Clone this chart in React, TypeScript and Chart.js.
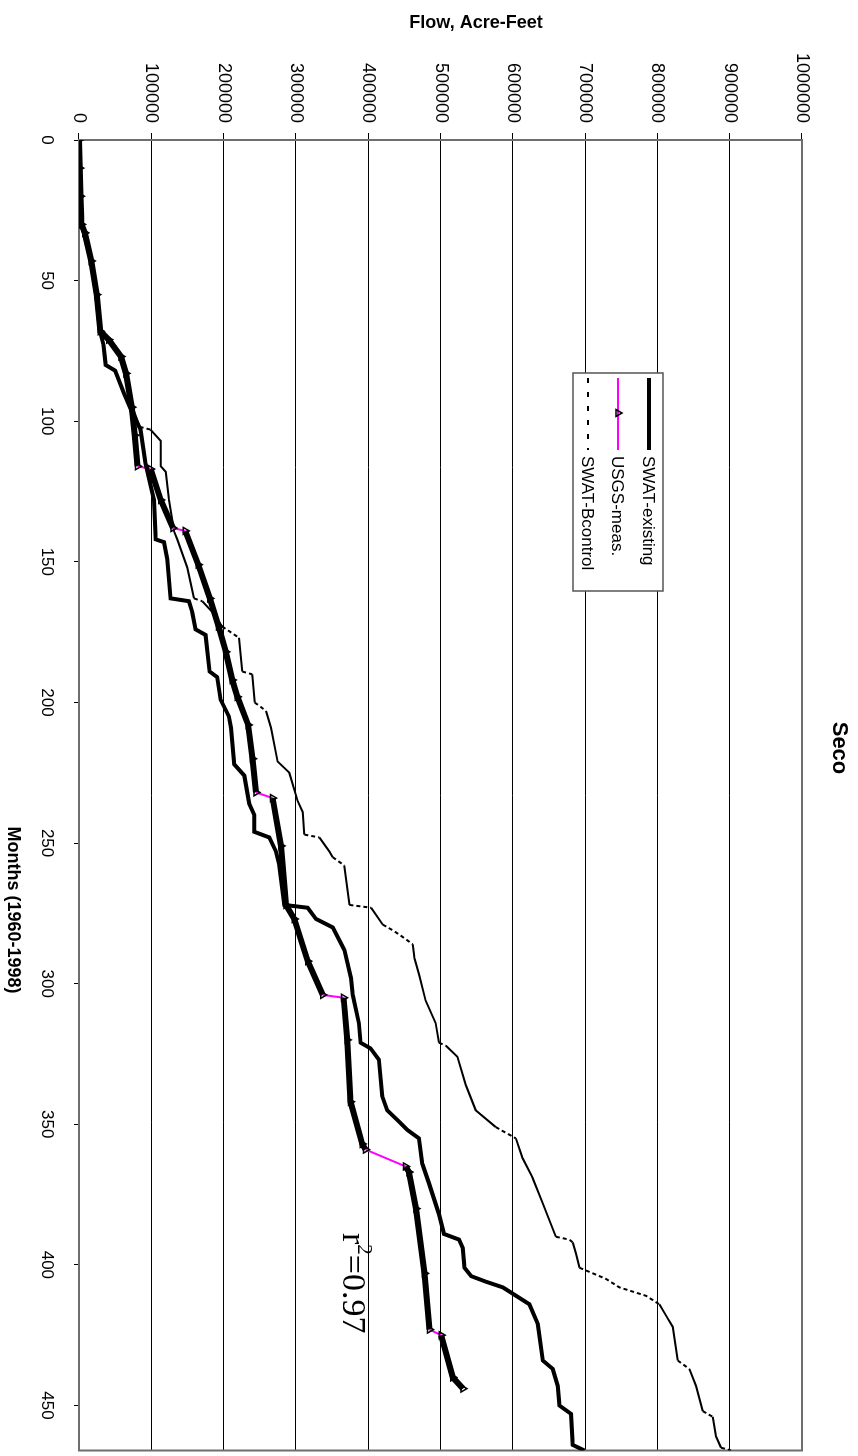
import { useEffect, useRef } from 'react';
import { Chart, registerables } from 'chart.js';

Chart.register(...registerables);

// ---------- data ----------
const chartTitle = 'Seco';
const xAxisTitle = 'Months (1960-1998)';
const yAxisTitle = 'Flow, Acre-Feet';
const seriesLabels = ['SWAT-existing', 'USGS-meas.', 'SWAT-Bcontrol'];
const fitLabel = '0.97';

const monthTicks = [0, 50, 100, 150, 200, 250, 300, 350, 400, 450];
const flowTicks = [0, 100000, 200000, 300000, 400000, 500000, 600000, 700000, 800000, 900000, 1000000];
const monthMax = 466;

const existingMonths = [0, 10, 20, 30, 34, 43, 55, 68, 73, 80, 82, 90, 96, 103, 115, 128, 142, 143, 149, 163, 164, 168, 174, 176, 189, 191, 199, 205, 209, 222, 226, 236, 240, 246, 248, 253, 258, 272, 273, 277, 280, 288, 298, 304, 314, 321, 323, 327, 340, 345, 349, 352, 355, 364, 371, 382, 389, 391, 394, 401, 404, 406, 408, 411, 414, 421, 434, 437, 443, 450, 453, 464, 466];
const existingFlow = [0, 1000, 2000, 3500, 8000, 17000, 24000, 29000, 34000, 37000, 50000, 62000, 72000, 85000, 92000, 103700, 106000, 117500, 122100, 126700, 152000, 156700, 161300, 175100, 180600, 191200, 195800, 207400, 210200, 214800, 228600, 235500, 242400, 242400, 263200, 272400, 277100, 284000, 316300, 327800, 350900, 367000, 376300, 378600, 387100, 389400, 403200, 414800, 419400, 426300, 442500, 454000, 470200, 474800, 484100, 497900, 504800, 525600, 530900, 533200, 542400, 563100, 586200, 604600, 623000, 634600, 641500, 655300, 662200, 664500, 680600, 682900, 699100];

const usgsMonths = [0, 10, 20, 30, 33, 43, 55, 68, 71, 77, 83, 95, 105, 116, 117, 128, 138, 139, 151, 163, 173, 182, 192, 198, 208, 220, 232, 234, 251, 272, 277, 292, 304, 305, 320, 342, 357, 359, 365, 367, 380, 403, 423, 425, 440, 444];
const usgsFlow = [0, 1000, 2000, 3500, 8000, 17000, 24500, 29500, 41000, 58000, 65000, 73000, 77000, 81000, 99000, 113000, 130000, 147000, 165000, 181000, 193000, 203000, 212000, 219000, 234000, 240000, 244800, 267800, 279400, 286300, 297800, 316300, 337000, 366000, 371000, 375500, 391700, 396300, 451700, 456400, 466000, 478000, 484800, 501000, 517000, 531000];

const bcontrolMonths = [0, 10, 20, 30, 34, 43, 55, 68, 72, 76, 83, 95, 102, 103, 107, 116, 118, 128, 139, 142, 152, 163, 164, 168, 173, 175, 177, 189, 190, 200, 203, 209, 221, 225, 235, 239, 247, 248, 253, 255, 258, 272, 273, 279, 281, 283, 286, 291, 297, 306, 314, 321, 322, 326, 336, 345, 351, 353, 355, 362, 369, 378, 390, 391, 392, 396, 401, 405, 408, 411, 414, 418, 422, 434, 437, 443, 452, 454, 461, 465, 466];
const bcontrolFlow = [0, 1000, 2000, 3500, 8500, 17500, 25000, 30000, 42000, 56000, 64000, 74000, 84000, 99000, 113000, 113000, 120000, 124400, 131300, 135900, 149800, 159000, 170500, 185000, 198000, 209700, 221200, 225800, 239600, 243000, 258600, 265500, 274700, 290900, 302400, 309400, 311700, 332400, 346300, 350900, 367000, 374000, 404000, 420100, 433900, 445500, 461600, 464000, 470500, 479400, 493300, 497900, 507200, 523300, 534900, 548700, 576400, 590300, 604200, 613400, 627300, 641200, 659600, 678100, 682900, 687500, 692200, 729000, 747400, 784300, 802700, 811900, 821200, 828100, 844200, 853400, 862700, 876500, 881100, 888000, 901800];

// ---------- styles ----------
const SANS = '"Liberation Sans", Arial, sans-serif';
const SERIF = '"Liberation Serif", "Times New Roman", serif';
const MAGENTA = '#ff00ff';

const toPoints = (xs: number[], ys: number[]) => xs.map((x, i) => ({ x, y: ys[i] }));
const steepness = (ctx: any) => {
  const dx = Math.abs(ctx.p1.x - ctx.p0.x) || 0.001;
  const dy = Math.abs(ctx.p1.y - ctx.p0.y);
  return dy / dx;
};

const decorPlugin = {
  id: 'decor',
  beforeDatasetsDraw(chart: any) {
    const { ctx, chartArea: a } = chart;
    ctx.save();
    ctx.strokeStyle = '#6e6e6e';
    ctx.lineWidth = 2;
    ctx.strokeRect(a.left, a.top, a.right - a.left, a.bottom - a.top);
    ctx.restore();
  },
  afterDraw(chart: any) {
    const { ctx } = chart;
    ctx.save();
    ctx.fillStyle = '#000';

    // chart title
    ctx.font = `bold 22px ${SANS}`;
    ctx.textAlign = 'center';
    ctx.textBaseline = 'middle';
    ctx.fillText(chartTitle, 748, 19);

    // x axis title
    ctx.font = `bold 18px ${SANS}`;
    ctx.fillText(xAxisTitle, 910, 845);

    // y axis title (rotated)
    ctx.save();
    ctx.translate(23, 382);
    ctx.rotate(-Math.PI / 2);
    ctx.font = `bold 18px ${SANS}`;
    ctx.fillText(yAxisTitle, 0, 0);
    ctx.restore();

    // r^2 annotation
    ctx.textAlign = 'left';
    ctx.textBaseline = 'alphabetic';
    let x = 1233;
    const base = 515;
    ctx.font = `34px ${SERIF}`;
    ctx.fillText('r', x, base);
    x += ctx.measureText('r').width;
    ctx.font = `21px ${SERIF}`;
    ctx.fillText('2', x, base - 15);
    x += ctx.measureText('2').width;
    ctx.font = `34px ${SERIF}`;
    ctx.fillText('=' + fitLabel, x, base);

    // legend
    const lx = 373, ly = 195, lw = 218, lh = 90;
    ctx.fillStyle = '#fff';
    ctx.fillRect(lx, ly, lw, lh);
    ctx.strokeStyle = '#555';
    ctx.lineWidth = 1.5;
    ctx.strokeRect(lx, ly, lw, lh);
    const rows = [209, 240, 270];
    const s0 = 378, s1 = 450, tx = 456;
    ctx.strokeStyle = '#000';
    ctx.lineWidth = 4;
    ctx.beginPath(); ctx.moveTo(s0, rows[0]); ctx.lineTo(s1, rows[0]); ctx.stroke();
    ctx.strokeStyle = MAGENTA;
    ctx.lineWidth = 2;
    ctx.beginPath(); ctx.moveTo(s0, rows[1]); ctx.lineTo(s1, rows[1]); ctx.stroke();
    ctx.strokeStyle = '#000';
    ctx.lineWidth = 1.5;
    const cx = 413, cy = rows[1], r = 4;
    ctx.beginPath();
    ctx.moveTo(cx, cy - r);
    ctx.lineTo(cx + r * 0.87, cy + r * 0.5);
    ctx.lineTo(cx - r * 0.87, cy + r * 0.5);
    ctx.closePath();
    ctx.stroke();
    ctx.setLineDash([5, 9]);
    ctx.lineWidth = 2;
    ctx.beginPath(); ctx.moveTo(s0, rows[2]); ctx.lineTo(s1, rows[2]); ctx.stroke();
    ctx.setLineDash([]);
    ctx.fillStyle = '#000';
    ctx.font = `17px ${SANS}`;
    ctx.textBaseline = 'middle';
    seriesLabels.forEach((lab, i) => ctx.fillText(lab, tx, rows[i] + 1));
    ctx.restore();
  },
};

export default function App() {
  const ref = useRef<HTMLCanvasElement>(null);

  useEffect(() => {
    if (!ref.current) return;
    const chart = new Chart(ref.current, {
      type: 'line',
      data: {
        datasets: [
          {
            label: seriesLabels[0],
            data: toPoints(existingMonths, existingFlow),
            borderColor: '#000',
            borderWidth: 4,
            pointRadius: 0,
            tension: 0,
            fill: false,
          },
          {
            label: seriesLabels[1],
            data: toPoints(usgsMonths, usgsFlow),
            borderColor: '#000',
            borderWidth: 6,
            pointStyle: 'triangle',
            pointRadius: 4,
            pointBorderWidth: 1.5,
            pointBorderColor: '#000',
            pointBackgroundColor: 'rgba(0,0,0,0)',
            tension: 0,
            fill: false,
            segment: {
              borderColor: (ctx: any) => (steepness(ctx) > 1.8 ? MAGENTA : '#000'),
              borderWidth: (ctx: any) => (steepness(ctx) > 1.8 ? 2 : 6),
            },
          },
          {
            label: seriesLabels[2],
            data: toPoints(bcontrolMonths, bcontrolFlow),
            borderColor: '#000',
            borderWidth: 2,
            pointRadius: 0,
            tension: 0,
            fill: false,
            segment: {
              borderDash: (ctx: any) => (steepness(ctx) > 1.2 ? [4, 3] : []),
            },
          },
        ],
      } as any,
      options: {
        responsive: false,
        animation: false,
        devicePixelRatio: 1,
        layout: { padding: { top: 56, right: 2, left: 0, bottom: 0 } },
        plugins: {
          legend: { display: false },
          tooltip: { enabled: false },
          title: { display: false },
        },
        scales: {
          x: {
            type: 'linear',
            min: 0,
            max: monthMax,
            afterBuildTicks: (s: any) => {
              s.ticks = monthTicks.map((v) => ({ value: v }));
            },
            afterFit: (s: any) => {
              s.height = 79;
            },
            ticks: {
              color: '#000',
              font: { family: SANS, size: 17 },
              padding: 17,
              maxRotation: 0,
              autoSkip: false,
              callback: (v: any) => String(v),
            },
            grid: { drawOnChartArea: false, drawTicks: true, tickLength: 5, color: '#000', lineWidth: 1 },
            border: { display: false },
          },
          y: {
            type: 'linear',
            min: 0,
            max: 1000000,
            afterBuildTicks: (s: any) => {
              s.ticks = flowTicks.map((v) => ({ value: v }));
            },
            afterFit: (s: any) => {
              s.width = 140;
            },
            ticks: {
              color: '#000',
              font: { family: SANS, size: 18 },
              padding: 10,
              callback: (v: any) => String(v),
            },
            grid: { color: '#000', lineWidth: 1, tickLength: 7 },
            border: { display: false },
          },
        },
      } as any,
      plugins: [decorPlugin as any],
    });
    return () => chart.destroy();
  }, []);

  return (
    <div style={{ position: 'absolute', left: 0, top: 0, width: 858, height: 1456, overflow: 'hidden', background: '#fff' }}>
      <div
        style={{
          position: 'absolute',
          left: 0,
          top: 0,
          width: 1456,
          height: 858,
          transformOrigin: '0 0',
          transform: 'translate(858px, 0px) rotate(90deg)',
        }}
      >
        <canvas ref={ref} width={1456} height={858} style={{ display: 'block', width: 1456, height: 858 }} />
      </div>
    </div>
  );
}
